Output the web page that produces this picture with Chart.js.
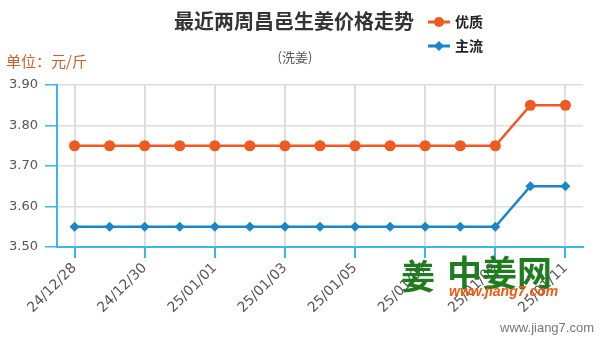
<!DOCTYPE html>
<html>
<head>
<meta charset="utf-8">
<title>最近两周昌邑生姜价格走势</title>
<script src="https://cdn.jsdelivr.net/npm/chart.js@4.4.1/dist/chart.umd.min.js"></script>
<style>
  html, body { margin: 0; padding: 0; background: #fff; }
  #wrap { width: 601px; height: 340px; position: relative; }
</style>
</head>
<body>
<div id="wrap"><canvas id="priceChart" width="601" height="340"></canvas></div>
<script>
// 日期与价格（元/斤）
const dates = ['24/12/28', '24/12/29', '24/12/30', '24/12/31', '25/01/01', '25/01/02', '25/01/03',
  '25/01/04', '25/01/05', '25/01/06', '25/01/07', '25/01/08', '25/01/09', '25/01/10', '25/01/11'];
const youzhi = [3.75, 3.75, 3.75, 3.75, 3.75, 3.75, 3.75, 3.75, 3.75, 3.75, 3.75, 3.75, 3.75, 3.85, 3.85];
const zhuliu = [3.55, 3.55, 3.55, 3.55, 3.55, 3.55, 3.55, 3.55, 3.55, 3.55, 3.55, 3.55, 3.55, 3.65, 3.65];
const yTicks = [3.50, 3.60, 3.70, 3.80, 3.90];

const ORANGE = '#ef5a21';
const BLUE = '#1787c7';
const AXIS = '#3ab6ea';
const GRID = '#dedede';
const CJK = '"Noto Sans CJK SC", "Noto Sans", sans-serif';

// 标题、副标题、图例、单位、水印
const decorPlugin = {
  id: 'decor',
  afterDraw(chart) {
    const ctx = chart.ctx;
    ctx.save();
    ctx.textBaseline = 'middle';

    ctx.fillStyle = '#333';
    ctx.font = 'bold 20px ' + CJK;
    ctx.textAlign = 'center';
    ctx.fillText('最近两周昌邑生姜价格走势', 294, 21);

    ctx.fillStyle = '#555';
    ctx.font = '13px ' + CJK;
    ctx.fillText('(洗姜)', 295, 57);

    ctx.fillStyle = '#c8612c';
    ctx.font = '15px ' + CJK;
    ctx.textAlign = 'left';
    ctx.fillText('单位：元/斤', 6, 61);

    // 图例
    const items = [
      { text: '优质', color: ORANGE, style: 'circle', y: 22 },
      { text: '主流', color: BLUE, style: 'rectRot', y: 46 }
    ];
    items.forEach(it => {
      ctx.strokeStyle = it.color;
      ctx.lineWidth = 3;
      ctx.beginPath();
      ctx.moveTo(428, it.y);
      ctx.lineTo(450, it.y);
      ctx.stroke();
      ctx.fillStyle = it.color;
      Chart.helpers.drawPoint(ctx, { pointStyle: it.style, radius: 5, borderWidth: 0 }, 439, it.y);
      ctx.fillStyle = '#222';
      ctx.font = 'bold 14px ' + CJK;
      ctx.textAlign = 'left';
      ctx.fillText(it.text, 455, it.y);
    });

    // 水印
    ctx.fillStyle = '#1f7d1f';
    ctx.font = 'bold 34px ' + CJK;
    ctx.textAlign = 'center';
    ctx.fillText('姜', 418, 276);
    ctx.font = 'bold 35px ' + CJK;
    ctx.textAlign = 'left';
    ctx.fillText('中姜网', 447, 273);
    ctx.fillStyle = '#f25a12';
    ctx.font = 'italic bold 14px "Liberation Sans", sans-serif';
    ctx.fillText('www.jiang7.com', 449, 292);
    ctx.fillStyle = '#777';
    ctx.font = '13px "Liberation Sans", sans-serif';
    ctx.textAlign = 'right';
    ctx.fillText('www.jiang7.com', 594, 328);
    ctx.restore();
  }
};

new Chart(document.getElementById('priceChart'), {
  type: 'line',
  data: {
    labels: dates,
    datasets: [
      {
        label: '优质',
        data: youzhi,
        borderColor: ORANGE,
        backgroundColor: ORANGE,
        borderWidth: 2.5,
        pointStyle: 'circle',
        pointRadius: 5.5,
        pointBorderWidth: 0,
        tension: 0
      },
      {
        label: '主流',
        data: zhuliu,
        borderColor: BLUE,
        backgroundColor: BLUE,
        borderWidth: 2.5,
        pointStyle: 'rectRot',
        pointRadius: 5,
        pointBorderWidth: 0,
        tension: 0
      }
    ]
  },
  options: {
    responsive: false,
    animation: false,
    layout: { padding: { top: 85, right: 18, left: 0, bottom: 0 } },
    plugins: {
      legend: { display: false },
      title: { display: false },
      tooltip: { enabled: false }
    },
    scales: {
      x: {
        offset: true,
        afterFit(scale) { scale.height = 93; },
        border: { color: AXIS, width: 2 },
        grid: { color: GRID, lineWidth: 2, tickColor: AXIS, tickLength: 11, offset: false },
        ticks: {
          autoSkip: false,
          minRotation: 45,
          maxRotation: 45,
          padding: 2,
          color: '#555',
          font: { family: '"DejaVu Sans", sans-serif', size: 14 },
          callback(value, index) {
            return index % 2 === 0 ? dates[index] : null;
          }
        }
      },
      y: {
        min: yTicks[0],
        max: yTicks[yTicks.length - 1],
        afterFit(scale) { scale.width = 57; },
        afterBuildTicks(scale) { scale.ticks = yTicks.map(v => ({ value: v })); },
        border: { color: AXIS, width: 2 },
        grid: { color: GRID, lineWidth: 1.5, tickColor: AXIS, tickLength: 12 },
        ticks: {
          padding: 7,
          color: '#555',
          font: { family: '"DejaVu Sans", sans-serif', size: 13 },
          callback(value) { return Number(value).toFixed(2); }
        }
      }
    }
  },
  plugins: [decorPlugin]
});
</script>
</body>
</html>
